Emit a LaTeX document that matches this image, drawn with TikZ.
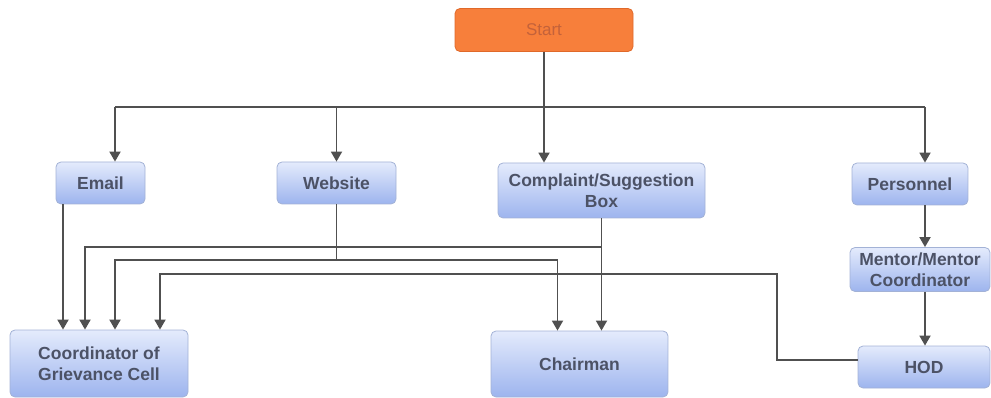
\documentclass[tikz,border=0pt]{standalone}
\usepackage{fontspec}
\setmainfont{Liberation Sans}
\usetikzlibrary{arrows.meta,positioning}
\definecolor{boxtop}{HTML}{E4EBFC}
\definecolor{boxbot}{HTML}{9DB4EE}
\definecolor{boxedge}{HTML}{A3B2D6}
\definecolor{boxtext}{HTML}{4C5266}
\definecolor{startfill}{HTML}{F77F3B}
\definecolor{startedge}{HTML}{E0692A}
\definecolor{starttext}{HTML}{C4623A}
\definecolor{linegray}{HTML}{505050}

\begin{document}
\begin{tikzpicture}[x=1pt,y=-1pt,
	box/.style={draw=boxedge, line width=0.8pt, rounded corners=5pt, top color=boxtop, bottom color=boxbot, text=boxtext, font=\fontsize{17.5}{21}\selectfont\bfseries, align=center, inner sep=0pt},
	startbox/.style={draw=startedge, line width=0.8pt, rounded corners=5pt, fill=startfill, text=starttext, font=\fontsize{17}{20}\selectfont, inner sep=0pt},
	arr/.style={draw=linegray, line width=1.8pt, -{Triangle[width=11pt,length=10pt]}},
	ln/.style={draw=linegray, line width=1.8pt}]
	\useasboundingbox (0,0) rectangle (991,398);
	\node[startbox, minimum width=178pt, minimum height=43pt](start) at (544,30){Start};
	\node[box, minimum width=89pt, minimum height=42pt](email) at (100.5,183){Email};
	\node[box, minimum width=119pt, minimum height=42pt](website) at (336.5,183){Website};
	\node[box, minimum width=207pt, minimum height=55pt](cbox) at (601.5,190.5){Complaint/Suggestion\\Box};
	\node[box, minimum width=116pt, minimum height=42pt](personnel) at (910,184){Personnel};
	\node[box, minimum width=140pt, minimum height=44pt](mentor) at (920,269.5){Mentor/Mentor\\Coordinator};
	\node[box, minimum width=132pt, minimum height=42pt](hod) at (924,367){HOD};
	\node[box, minimum width=178pt, minimum height=67pt](coord) at (99,363.5){Coordinator of\\Grievance Cell};
	\node[box, minimum width=177pt, minimum height=66pt](chair) at (579.5,364){Chairman};
	\coordinate (bus) at (544,107);
	\coordinate (cj) at (602,247);
	\coordinate (wj) at (337,260);
	\coordinate (hj) at (777,274);
	\coordinate (emailin) at ([xshift=14.5pt]email.north);
	\coordinate (emailout) at ([xshift=-37.5pt]email.south);
	\coordinate (persin) at ([xshift=15pt]personnel.north);
	\draw[ln] (start.south) -- (bus);
	\draw[ln] (emailin |- bus) -- (persin |- bus);
	\draw[arr] (emailin |- bus) -- (emailin);
	\draw[arr] (website.north |- bus) -- (website.north);
	\draw[arr] (bus) -- (bus |- cbox.north);
	\draw[arr] (persin |- bus) -- (persin);
	\draw[arr] (persin |- personnel.south) -- (persin |- mentor.north);
	\draw[arr] (persin |- mentor.south) -- (persin |- hod.north);
	\draw[arr] (emailout) -- (emailout |- coord.north);
	\draw[arr] (cbox.south) -- (cbox.south |- chair.north);
	\draw[arr] (cbox.south |- cj) -| ([xshift=-14pt]coord.north);
	\draw[ln] (website.south) -- (website.south |- wj);
	\draw[arr] (website.south |- wj) -| ([xshift=16pt]coord.north);
	\draw[arr] (website.south |- wj) -| ([xshift=-22pt]chair.north);
	\draw[arr] ([yshift=7pt]hod.west) -| (hj) -| ([xshift=61pt]coord.north);
\end{tikzpicture}
\end{document}
